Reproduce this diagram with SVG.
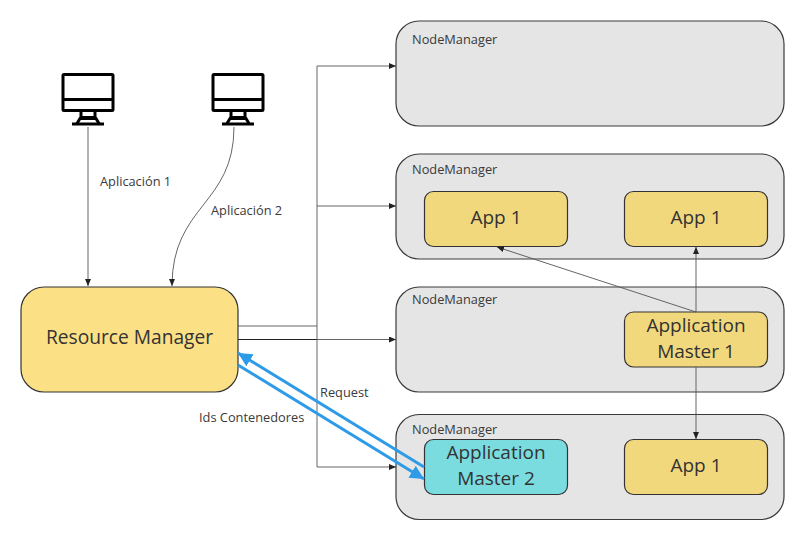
<svg xmlns="http://www.w3.org/2000/svg" width="802" height="533" viewBox="0 0 802 533">
<style>
text{font-family:"Open Sans","Noto Sans",sans-serif;fill:#3a3a3a}
.nm{fill:#e5e5e5;stroke:#3a3a3a;stroke-width:1.2}
.nt{font-size:12.8px}
.app{fill:#f2d87c;stroke:#333;stroke-width:1.2}
.big{font-size:19px;text-anchor:middle;fill:#333}
.lab{font-size:12.8px}
.c{fill:none;stroke:#555;stroke-width:.9}
.k{fill:none;stroke:#222;stroke-width:1.2}
.b{fill:none;stroke:#2d9be8;stroke-width:3}
.m{fill:none;stroke:#000;stroke-width:3}
</style>
<defs>
<marker id="a" markerWidth="8" markerHeight="6" refX="7" refY="3" orient="auto" markerUnits="userSpaceOnUse"><path d="M0 0L7 3L0 6z" fill="#222"/></marker>
<marker id="ab" markerWidth="16" markerHeight="14" refX="14" refY="7" orient="auto" markerUnits="userSpaceOnUse"><path d="M0 0L14 7L0 14z" fill="#2d9be8"/></marker>
<g id="mon"><rect x="-25" y="-31" width="50" height="36" rx="1" class="m"/><path d="M-25 -6H25M-7 5V13M7 5V13M-7 12H7M-11 18L-8 13H8L11 18" class="m"/><path d="M-16 18.500H16" class="m"/></g>
</defs>
<g id="connectors">
<path d="M88 127V286" class="c" marker-end="url(#a)"/>
<path d="M234 127C234 205 172 205 172 286" class="c" marker-end="url(#a)"/>
<path d="M238 326H317M317 326V66H396" class="c" marker-end="url(#a)"/>
<path d="M317 206H396" class="c" marker-end="url(#a)"/>
<path d="M238 339.500H317" class="k"/>
<path d="M317 339.500H396" class="c" marker-end="url(#a)"/>
<path d="M317 326V467H396" class="c" marker-end="url(#a)"/>
</g>
<g id="nm1"><rect x="396" y="21" width="388" height="105" rx="23" class="nm"/><text x="412" y="44" class="nt">NodeManager</text></g>
<g id="nm2"><rect x="396" y="154" width="388" height="105" rx="23" class="nm"/><text x="412" y="174" class="nt">NodeManager</text></g>
<g id="nm3"><rect x="396" y="287" width="388" height="105" rx="23" class="nm"/><text x="412" y="304" class="nt">NodeManager</text></g>
<g id="nm4"><rect x="396" y="414.500" width="388" height="105" rx="23" class="nm"/><text x="412" y="434" class="nt">NodeManager</text></g>
<g id="pc1"><use href="#mon" x="88" y="105.500"/></g>
<g id="pc2"><use href="#mon" x="238" y="105.500"/></g>
<g id="rm"><rect x="21" y="287" width="217" height="105" rx="23" fill="#fbe086" stroke="#333" stroke-width="1.2"/><text x="129.500" y="344" class="big" style="font-size:19.200px">Resource Manager</text></g>
<g id="app1a"><rect x="424.500" y="191.500" width="143" height="55" rx="9" class="app"/><text x="496" y="224" class="big">App 1</text></g>
<g id="app1b"><rect x="624.500" y="191.500" width="143" height="55" rx="9" class="app"/><text x="696" y="224" class="big">App 1</text></g>
<g id="am1"><rect x="624.500" y="312" width="143" height="55" rx="9" class="app"/><text x="696" y="332" class="big">Application</text><text x="696" y="358" class="big">Master 1</text></g>
<g id="am2"><rect x="424.500" y="439.500" width="143" height="55" rx="9" fill="#7adcdf" stroke="#333" stroke-width="1.2"/><text x="496" y="459" class="big">Application</text><text x="496" y="485" class="big">Master 2</text></g>
<g id="app1c"><rect x="624.500" y="439.500" width="143" height="55" rx="9" class="app"/><text x="696" y="472" class="big">App 1</text></g>
<g id="connectors2">
<path d="M696 312L497 247" class="c" marker-end="url(#a)"/>
<path d="M696 312V247" class="c" marker-end="url(#a)"/>
<path d="M696 367V439" class="c" marker-end="url(#a)"/>
<path d="M424 467L238 353" class="b" marker-end="url(#ab)"/>
<path d="M238 365L424 479" class="b" marker-end="url(#ab)"/>
</g>
<text x="100" y="186" class="lab">Aplicación 1</text>
<text x="211" y="215" class="lab">Aplicación 2</text>
<text x="320" y="397" class="lab">Request</text>
<text x="199" y="422" class="lab">Ids Contenedores</text>
</svg>
